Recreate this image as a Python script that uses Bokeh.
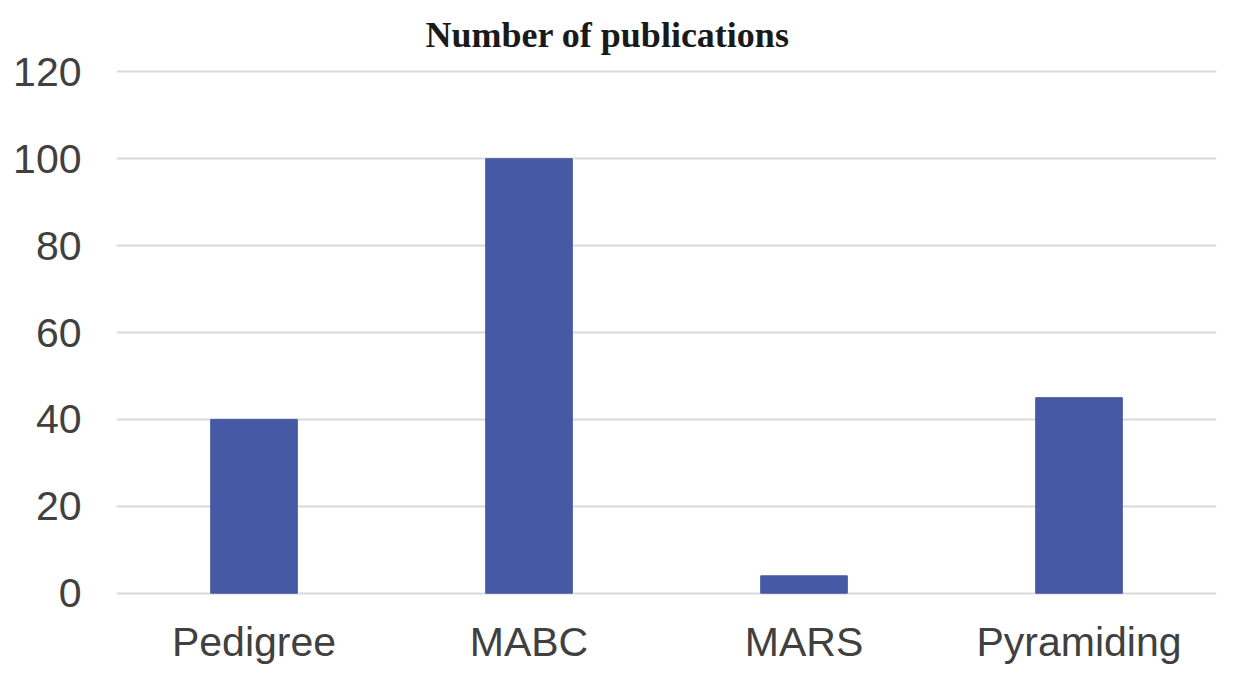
from bokeh.plotting import figure
from bokeh.models import Range1d, FixedTicker, Title, ColumnDataSource
from bokeh.core.properties import value
from bokeh.embed import file_html
from bokeh.resources import INLINE

categories = ["Pedigree", "MABC", "MARS", "Pyramiding"]
publications = [40, 100, 4, 45]
y_ticks = [0, 20, 40, 60, 80, 100, 120]

W, H = 1218, 666
TOP = 66  # frame top in canvas px
# target canvas positions: value 120 -> 71.3 px, value 0 -> 592.7 px
px_per_unit = (592.7 - 71.3) / 120.0
y_top = 120 + (71.3 - TOP) / px_per_unit
y_bottom = -(H - 592.7) / px_per_unit
label_y = -(641.0 - 592.7) / px_per_unit

p = figure(x_range=categories, y_range=Range1d(y_bottom, y_top),
           width=W, height=H, output_backend="svg",
           toolbar_location=None, x_axis_location=None,
           min_border_left=116, min_border_right=2,
           min_border_top=TOP, min_border_bottom=0)

p.vbar(x=categories, top=publications, width=0.315, color="#4659a5")

lab_src = ColumnDataSource(dict(x=categories, y=[label_y] * len(categories), t=categories))
p.text(x="x", y="y", text="t", source=lab_src, text_align="center",
       text_baseline="alphabetic", text_font=value("Liberation Sans"),
       text_font_size="41px", text_color="#404040")

t = Title(text="Number of publications", align="left", offset=309, standoff=20,
          vertical_align="top",
          text_font="Liberation Serif", text_font_size="36px",
          text_font_style="bold", text_color="#1a1a1a")
p.add_layout(t, "above")

p.outline_line_color = None
p.background_fill_color = "white"
p.border_fill_color = "white"

p.xgrid.grid_line_color = None
p.ygrid.grid_line_color = "#d9d9d9"
p.ygrid.grid_line_width = 2
p.yaxis.ticker = FixedTicker(ticks=y_ticks)

ax = p.yaxis
ax.axis_line_color = None
ax.major_tick_line_color = None
ax.minor_tick_line_color = None
ax.major_label_text_font = "Liberation Sans"
ax.major_label_text_font_size = "41px"
ax.major_label_text_color = "#404040"
ax.major_label_standoff = 29

open("out.html", "w").write(file_html(p, INLINE))
